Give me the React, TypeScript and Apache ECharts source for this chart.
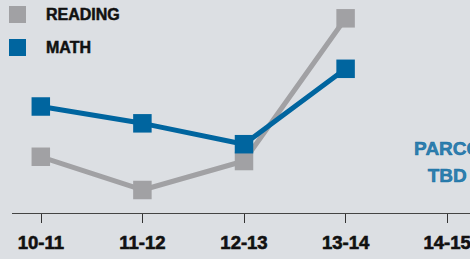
import React, { useEffect, useRef } from "react";
import * as echarts from "echarts";

const categories = ["10-11", "11-12", "12-13", "13-14", "14-15"];
const readingValues = [26.4, 10.8, 24.4, 91.4];
const mathValues = [50.0, 42.1, 32.3, 67.7];
const noteCategory = "14-15";
const noteValue = 24;
const noteText = "PARCC\nTBD";

const FONT = "'Liberation Sans', Arial, sans-serif";
const GRAY = "#a1a1a4";
const BLUE = "#00659f";
const INK = "#111111";

export default function App() {
  const ref = useRef<HTMLDivElement>(null);
  useEffect(() => {
    if (!ref.current) return;
    const chart = echarts.init(ref.current, null, { renderer: "svg" });
    chart.setOption({
      animation: false,
      backgroundColor: "#dcdfe3",
      legend: {
        orient: "vertical",
        left: 9,
        top: 6,
        padding: 0,
        itemWidth: 17,
        itemHeight: 17,
        itemGap: 16,
        icon: "rect",
        data: ["READING", "MATH"],
        textStyle: {
          fontFamily: FONT,
          fontWeight: "bold",
          fontSize: 16,
          color: INK,
          textBorderColor: INK,
          textBorderWidth: 0.5,
          padding: [0, 0, 0, 15],
        },
      },
      grid: { left: -10, width: 508, top: 0, bottom: 46, containLabel: false, outerBoundsMode: "none" },
      xAxis: {
        type: "category",
        data: categories,
        boundaryGap: true,
        axisLine: { show: false },
        axisTick: { show: true, alignWithLabel: true, length: 10, lineStyle: { color: "#333", width: 1 } },
        axisLabel: {
          fontFamily: FONT,
          fontWeight: "bold",
          fontSize: 18.5,
          color: INK,
          textBorderColor: INK,
          textBorderWidth: 0.6,
          margin: 19.5,
        },
      },
      yAxis: { type: "value", min: 0, max: 100, show: false },
      graphic: [
        {
          type: "line",
          shape: { x1: 12, y1: 213.5, x2: 470, y2: 213.5 },
          style: { stroke: "#444", lineWidth: 1 },
          z: 10,
        },
      ],
      series: [
        {
          name: "READING",
          type: "line",
          data: readingValues,
          symbol: "rect",
          symbolSize: 18.5,
          color: GRAY,
          lineStyle: { color: GRAY, width: 5 },
          itemStyle: { color: GRAY },
          z: 2,
        },
        {
          name: "MATH",
          type: "line",
          data: mathValues,
          symbol: "rect",
          symbolSize: 18.5,
          color: BLUE,
          lineStyle: { color: BLUE, width: 5 },
          itemStyle: { color: BLUE },
          z: 3,
        },
        {
          name: "note",
          type: "scatter",
          data: [[noteCategory, noteValue]],
          symbolSize: 1,
          itemStyle: { color: "transparent" },
          label: {
            show: true,
            position: "inside",
            formatter: noteText,
            fontFamily: FONT,
            fontWeight: "bold",
            fontSize: 19,
            lineHeight: 26.5,
            color: BLUE,
            textBorderColor: BLUE,
            textBorderWidth: 0.6,
            align: "center",
          },
          z: 4,
        },
      ],
    });
    return () => chart.dispose();
  }, []);
  return <div ref={ref} style={{ position: "absolute", left: 0, top: 0, width: 470, height: 259 }} />;
}
